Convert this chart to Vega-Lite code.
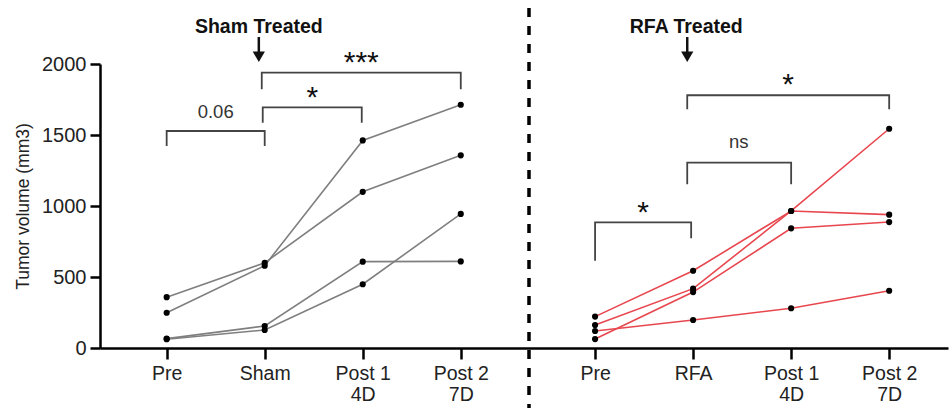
{
  "$schema": "https://vega.github.io/schema/vega-lite/v6.json",
  "width": 848,
  "height": 284,
  "autosize": {"type": "none"},
  "padding": {"left": 100, "top": 64, "right": 1, "bottom": 60},
  "background": "white",
  "config": {"view": {"stroke": null}, "font": "Liberation Sans"},
  "datasets": {
    "series": [
      {"g": "Sham", "m": "S1", "x": 1, "y": 358}, {"g": "Sham", "m": "S1", "x": 2, "y": 600}, {"g": "Sham", "m": "S1", "x": 3, "y": 1100}, {"g": "Sham", "m": "S1", "x": 4, "y": 1357},
      {"g": "Sham", "m": "S2", "x": 1, "y": 248}, {"g": "Sham", "m": "S2", "x": 2, "y": 580}, {"g": "Sham", "m": "S2", "x": 3, "y": 1462}, {"g": "Sham", "m": "S2", "x": 4, "y": 1713},
      {"g": "Sham", "m": "S3", "x": 1, "y": 66}, {"g": "Sham", "m": "S3", "x": 2, "y": 155}, {"g": "Sham", "m": "S3", "x": 3, "y": 608}, {"g": "Sham", "m": "S3", "x": 4, "y": 610},
      {"g": "Sham", "m": "S4", "x": 1, "y": 62}, {"g": "Sham", "m": "S4", "x": 2, "y": 127}, {"g": "Sham", "m": "S4", "x": 3, "y": 449}, {"g": "Sham", "m": "S4", "x": 4, "y": 944},
      {"g": "RFA", "m": "R1", "x": 5.37, "y": 221}, {"g": "RFA", "m": "R1", "x": 6.37, "y": 544}, {"g": "RFA", "m": "R1", "x": 7.37, "y": 965}, {"g": "RFA", "m": "R1", "x": 8.37, "y": 939},
      {"g": "RFA", "m": "R2", "x": 5.37, "y": 162}, {"g": "RFA", "m": "R2", "x": 6.37, "y": 418}, {"g": "RFA", "m": "R2", "x": 7.37, "y": 965}, {"g": "RFA", "m": "R2", "x": 8.37, "y": 1544},
      {"g": "RFA", "m": "R3", "x": 5.37, "y": 63}, {"g": "RFA", "m": "R3", "x": 6.37, "y": 394}, {"g": "RFA", "m": "R3", "x": 7.37, "y": 843}, {"g": "RFA", "m": "R3", "x": 8.37, "y": 887},
      {"g": "RFA", "m": "R4", "x": 5.37, "y": 120}, {"g": "RFA", "m": "R4", "x": 6.37, "y": 197}, {"g": "RFA", "m": "R4", "x": 7.37, "y": 280}, {"g": "RFA", "m": "R4", "x": 8.37, "y": 403}
    ],
    "brackets": [
      {"b": 1, "o": 1, "x": 1.0, "y": 1423}, {"b": 1, "o": 2, "x": 1.0, "y": 1528}, {"b": 1, "o": 3, "x": 2.0, "y": 1528}, {"b": 1, "o": 4, "x": 2.0, "y": 1423},
      {"b": 2, "o": 1, "x": 1.98, "y": 1587}, {"b": 2, "o": 2, "x": 1.98, "y": 1695}, {"b": 2, "o": 3, "x": 2.99, "y": 1695}, {"b": 2, "o": 4, "x": 2.99, "y": 1587},
      {"b": 3, "o": 1, "x": 1.97, "y": 1822}, {"b": 3, "o": 2, "x": 1.97, "y": 1939}, {"b": 3, "o": 3, "x": 4.0, "y": 1939}, {"b": 3, "o": 4, "x": 4.0, "y": 1822},
      {"b": 4, "o": 1, "x": 5.37, "y": 615}, {"b": 4, "o": 2, "x": 5.37, "y": 885}, {"b": 4, "o": 3, "x": 6.35, "y": 885}, {"b": 4, "o": 4, "x": 6.35, "y": 773},
      {"b": 5, "o": 1, "x": 6.31, "y": 1153}, {"b": 5, "o": 2, "x": 6.31, "y": 1305}, {"b": 5, "o": 3, "x": 7.37, "y": 1305}, {"b": 5, "o": 4, "x": 7.37, "y": 1153},
      {"b": 6, "o": 1, "x": 6.31, "y": 1681}, {"b": 6, "o": 2, "x": 6.31, "y": 1780}, {"b": 6, "o": 3, "x": 8.37, "y": 1780}, {"b": 6, "o": 4, "x": 8.37, "y": 1681}
    ],
    "notes": [
      {"t": "0.06", "x": 1.5, "y": 1618},
      {"t": "ns", "x": 6.835, "y": 1406}
    ],
    "stars": [
      {"t": "*", "x": 2.485, "y": 1695},
      {"t": "***", "x": 2.985, "y": 1946},
      {"t": "*", "x": 5.86, "y": 885},
      {"t": "*", "x": 7.338, "y": 1789}
    ],
    "heads": [
      {"t": "Sham Treated", "x": 1.94, "y": 2220},
      {"t": "RFA Treated", "x": 6.3, "y": 2220}
    ],
    "shafts": [
      {"x": 1.94, "y": 2190, "y2": 2075},
      {"x": 6.31, "y": 2190, "y2": 2075}
    ],
    "tips": [
      {"x": 1.94, "y": 2051},
      {"x": 6.31, "y": 2051}
    ],
    "divider": [
      {"x": 4.696, "y": 2394, "y2": -423}
    ]
  },
  "encoding": {
    "x": {
      "field": "x", "type": "quantitative",
      "scale": {"domain": [0.32, 8.97], "nice": false, "zero": false},
      "axis": {
        "title": null, "grid": false,
        "values": [1, 2, 3, 4, 5.37, 6.37, 7.37, 8.37],
        "labelExpr": "datum.value == 1 || datum.value == 5.37 ? 'Pre' : datum.value == 2 ? 'Sham' : datum.value == 6.37 ? 'RFA' : (datum.value == 3 || datum.value == 7.37) ? ['Post 1', '4D'] : ['Post 2', '7D']",
        "domainColor": "#000", "domainWidth": 2.5,
        "tickColor": "#000", "tickWidth": 2.5, "tickSize": 11,
        "labelFontSize": 19.5, "labelColor": "#222", "labelPadding": 5, "labelLineHeight": 21,
        "labelFlush": false, "labelOverlap": false
      }
    },
    "y": {
      "field": "y", "type": "quantitative",
      "scale": {"domain": [0, 2000], "nice": false},
      "axis": {
        "title": "Tumor volume (mm3)", "grid": false, "format": "d",
        "values": [0, 500, 1000, 1500, 2000],
        "domainColor": "#000", "domainWidth": 2.5,
        "tickColor": "#000", "tickWidth": 2.5, "tickSize": 10,
        "labelFontSize": 20, "labelColor": "#222", "labelPadding": 4,
        "titleFontSize": 17.5, "titleFontWeight": "normal", "titleColor": "#222", "titlePadding": 9
      }
    }
  },
  "layer": [
    {
      "data": {"name": "divider"},
      "mark": {"type": "rule", "strokeDash": [9, 9], "strokeWidth": 3.5, "color": "#000"},
      "encoding": {"y2": {"field": "y2"}}
    },
    {
      "data": {"name": "brackets"},
      "mark": {"type": "line", "color": "#444", "strokeWidth": 1.8},
      "encoding": {"detail": {"field": "b", "type": "nominal"}, "order": {"field": "o", "type": "quantitative"}}
    },
    {
      "data": {"name": "series"},
      "mark": {"type": "line", "strokeWidth": 1.6},
      "encoding": {
        "detail": {"field": "m", "type": "nominal"},
        "color": {"field": "g", "type": "nominal", "scale": {"domain": ["Sham", "RFA"], "range": ["#7f7f7f", "#e8474f"]}, "legend": null}
      }
    },
    {
      "data": {"name": "series"},
      "mark": {"type": "point", "filled": true, "shape": "circle", "size": 38, "color": "#000", "opacity": 1}
    },
    {
      "data": {"name": "notes"},
      "mark": {"type": "text", "fontSize": 18.5, "color": "#333", "baseline": "alphabetic", "align": "center"},
      "encoding": {"text": {"field": "t"}}
    },
    {
      "data": {"name": "stars"},
      "mark": {"type": "text", "fontSize": 30, "color": "#111", "baseline": "alphabetic", "align": "center"},
      "encoding": {"text": {"field": "t"}}
    },
    {
      "data": {"name": "heads"},
      "mark": {"type": "text", "fontSize": 19.5, "fontWeight": "bold", "color": "#111", "baseline": "alphabetic", "align": "center"},
      "encoding": {"text": {"field": "t"}}
    },
    {
      "data": {"name": "shafts"},
      "mark": {"type": "rule", "strokeWidth": 2.5, "color": "#111"},
      "encoding": {"y2": {"field": "y2"}}
    },
    {
      "data": {"name": "tips"},
      "mark": {"type": "point", "shape": "triangle-down", "filled": true, "size": 150, "color": "#111", "opacity": 1}
    }
  ]
}
